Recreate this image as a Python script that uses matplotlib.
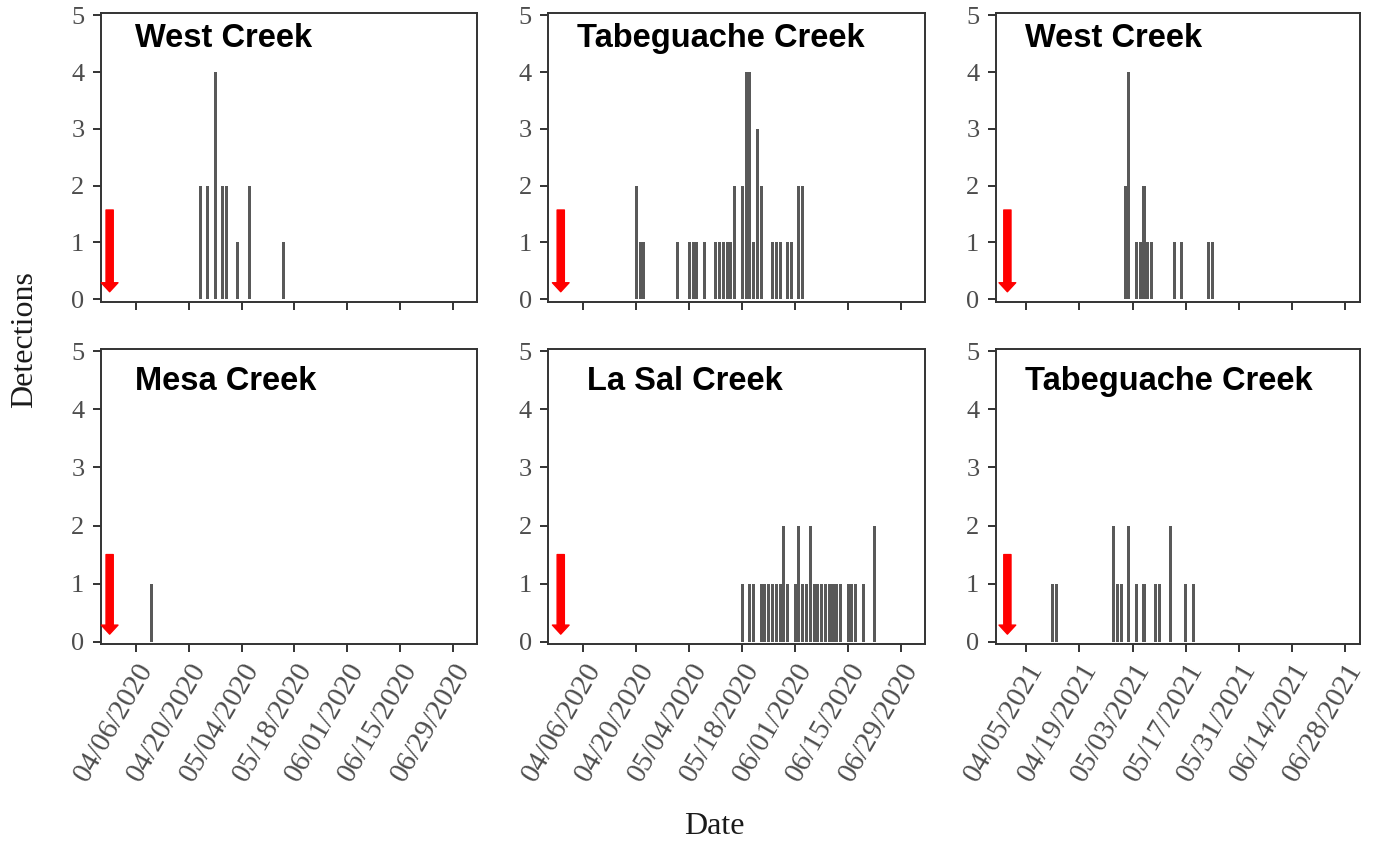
import matplotlib
matplotlib.use("Agg")
import matplotlib.pyplot as plt
import pandas as pd

# detections per day
west20_dates = ["2020-04-23", "2020-04-25", "2020-04-27", "2020-04-29", "2020-04-30",
                "2020-05-03", "2020-05-06", "2020-05-15"]
west20_counts = [2, 2, 4, 2, 2, 1, 2, 1]

tab20_dates = ["2020-04-20", "2020-04-21", "2020-04-22", "2020-05-01", "2020-05-04",
               "2020-05-05", "2020-05-06", "2020-05-08", "2020-05-11", "2020-05-12",
               "2020-05-13", "2020-05-14", "2020-05-15", "2020-05-16", "2020-05-18",
               "2020-05-19", "2020-05-20", "2020-05-21", "2020-05-22", "2020-05-23",
               "2020-05-26", "2020-05-27", "2020-05-28", "2020-05-30", "2020-05-31",
               "2020-06-02", "2020-06-03"]
tab20_counts = [2, 1, 1, 1, 1, 1, 1, 1, 1, 1, 1, 1, 1, 2, 2, 4, 4, 1, 3, 2,
                1, 1, 1, 1, 1, 2, 2]

west21_dates = ["2021-05-01", "2021-05-02", "2021-05-04", "2021-05-05", "2021-05-06",
                "2021-05-07", "2021-05-08", "2021-05-14", "2021-05-16", "2021-05-23",
                "2021-05-24"]
west21_counts = [2, 4, 1, 1, 2, 1, 1, 1, 1, 1, 1]

mesa20_dates = ["2020-04-10"]
mesa20_counts = [1]

lasal20_dates = ["2020-05-18", "2020-05-20", "2020-05-21", "2020-05-23", "2020-05-24",
                 "2020-05-25", "2020-05-26", "2020-05-27", "2020-05-28", "2020-05-29",
                 "2020-05-30", "2020-06-01", "2020-06-02", "2020-06-03", "2020-06-04",
                 "2020-06-05", "2020-06-06", "2020-06-07", "2020-06-08", "2020-06-09",
                 "2020-06-10", "2020-06-11", "2020-06-12", "2020-06-13", "2020-06-15",
                 "2020-06-16", "2020-06-17", "2020-06-19", "2020-06-22"]
lasal20_counts = [1, 1, 1, 1, 1, 1, 1, 1, 1, 2, 1, 1, 2, 1, 1, 2, 1, 1, 1, 1,
                  1, 1, 1, 1, 1, 1, 1, 1, 2]

tab21_dates = ["2021-04-12", "2021-04-13", "2021-04-28", "2021-04-29", "2021-04-30",
               "2021-05-02", "2021-05-04", "2021-05-06", "2021-05-09", "2021-05-10",
               "2021-05-13", "2021-05-17", "2021-05-19"]
tab21_counts = [1, 1, 2, 1, 1, 2, 1, 1, 1, 1, 2, 1, 1]

ticks20 = ["2020-04-06", "2020-04-20", "2020-05-04", "2020-05-18", "2020-06-01",
           "2020-06-15", "2020-06-29"]
ticks21 = ["2021-04-05", "2021-04-19", "2021-05-03", "2021-05-17", "2021-05-31",
           "2021-06-14", "2021-06-28"]
xlim20 = ["2020-03-27 17:00", "2020-07-05 08:00"]
xlim21 = ["2021-03-28 00:00", "2021-07-01 22:00"]

titles = ["West Creek", "Tabeguache Creek", "West Creek",
          "Mesa Creek", "La Sal Creek", "Tabeguache Creek"]
arrow_dates = ["2020-03-30", "2020-03-31", "2021-03-31",
               "2020-03-30", "2020-03-31", "2021-03-31"]

panels = [
    (west20_dates, west20_counts, ticks20, xlim20),
    (tab20_dates, tab20_counts, ticks20, xlim20),
    (west21_dates, west21_counts, ticks21, xlim21),
    (mesa20_dates, mesa20_counts, ticks20, xlim20),
    (lasal20_dates, lasal20_counts, ticks20, xlim20),
    (tab21_dates, tab21_counts, ticks21, xlim21),
]

W, H = 1384, 841
cols = [(101, 476.7), (548.3, 925), (996, 1360)]
rows = [(12.7, 301.7), (348.7, 644.3)]
title_x = [0.09, 0.076, 0.08, 0.09, 0.103, 0.08]
title_y = [0.883, 0.883, 0.883, 0.859, 0.859, 0.859]
arrow_top = [1.57, 1.57, 1.57, 1.5, 1.5, 1.5]

serif = "Liberation Serif"
fig = plt.figure(figsize=(W / 100, H / 100), dpi=100)

for i, (dates, counts, ticks, xlim) in enumerate(panels):
    r, c = divmod(i, 3)
    x0, x1 = cols[c]
    y0, y1 = rows[r]
    ax = fig.add_axes([x0 / W, 1 - y1 / H, (x1 - x0) / W, (y1 - y0) / H])

    d = pd.to_datetime(dates)
    ax.bar(d, counts, width=0.8, color="#595959", zorder=2)

    ad = pd.to_datetime(arrow_dates[i])
    ax.annotate("", xy=(ad, 0.13), xytext=(ad, arrow_top[i]),
                arrowprops=dict(arrowstyle="simple,head_length=0.65,head_width=1.2,tail_width=0.52",
                                color="red", shrinkA=0, shrinkB=0, mutation_scale=10))

    ax.set_xlim(pd.to_datetime(xlim[0]), pd.to_datetime(xlim[1]))
    ax.set_ylim(-0.045, 5.045)
    ax.set_yticks([0, 1, 2, 3, 4, 5])
    tk = pd.to_datetime(ticks)
    ax.set_xticks(tk)
    if r == 1:
        ax.set_xticklabels([t.strftime("%m/%d/%Y") for t in tk], rotation=60,
                           ha="right", va="top", rotation_mode="anchor",
                           fontsize=21, family=serif, color="#4d4d4d")
    else:
        ax.set_xticklabels([])
    for lab in ax.get_yticklabels():
        lab.set_family(serif)
    ax.tick_params(axis="both", direction="out", length=6, width=1.4,
                   color="#333333", labelcolor="#4d4d4d")
    ax.tick_params(axis="y", labelsize=19, pad=6)
    ax.tick_params(axis="x", pad=4)
    for s in ax.spines.values():
        s.set_color("#333333")
        s.set_linewidth(1.4)

    ax.text(title_x[i], title_y[i], titles[i], transform=ax.transAxes,
            ha="left", va="baseline", fontsize=23.5, fontweight="bold",
            family="Liberation Sans", color="black")

fig.text(25 / W, 1 - 340 / H, "Detections", rotation=90, ha="center", va="center",
         fontsize=23, family=serif, color="#1a1a1a")
fig.text(714 / W, 1 - 826 / H, "Date", ha="center", va="center",
         fontsize=23, family=serif, color="#1a1a1a")

fig.savefig("out.png", dpi=100)
